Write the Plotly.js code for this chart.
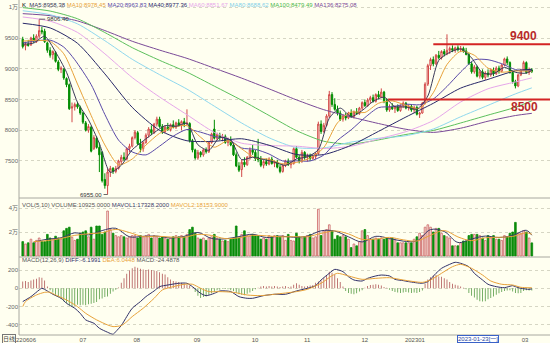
<!DOCTYPE html>
<html><head><meta charset="utf-8">
<script src="https://cdn.plot.ly/plotly-3.0.1.min.js"></script>
<style>html,body{margin:0;padding:0;background:#fffff0}#chart{width:550px;height:343px}</style>
</head><body><div id="chart"></div>
<script>
// ---- daily candles (trading-day index 0..186) ----
const open = [9480,9370,9400,9390,9500,9440,9530,9620,9610,9420,
9300,9230,9260,9110,8990,8990,8840,8740,8360,8380,
8420,8370,8280,8120,8000,8050,7700,7870,7720,7640,
7200,7100,7320,7380,7330,7380,7490,7560,7530,7700,
7740,7880,7960,7780,7700,7800,7920,8010,7960,8100,
8180,8060,7980,8050,8010,8090,8050,8120,8080,8140,
8100,8110,7830,7680,7550,7640,7600,7680,7650,7800,
8020,7870,7920,7880,7900,7800,7850,7760,7600,7420,
7360,7480,7440,7560,7680,7640,7560,7520,7430,7490,
7450,7530,7460,7480,7400,7330,7430,7500,7440,7460,
7700,7560,7500,7640,7560,7580,7540,7570,7620,8100,
7980,8080,8230,8580,8420,8340,8280,8180,8230,8200,
8280,8220,8300,8270,8360,8450,8400,8490,8530,8470,
8580,8540,8620,8480,8330,8380,8350,8380,8320,8400,
8440,8360,8390,8330,8370,8260,8280,8440,8750,9050,
9150,9080,9220,9180,9280,9240,9300,9330,9300,9340,
9310,9330,9290,9230,9080,8950,9030,8880,8950,8860,
8930,8900,8980,8920,9010,8960,9060,9160,9100,8940,
8790,8720,8900,8980,9100,8940,8980];
const high = [9520,9440,9470,9520,9560,9560,9806.4,9680,9650,9440,
9350,9300,9290,9140,9040,9010,8860,8760,8450,8450,
8460,8400,8300,8150,8100,8070,7920,7900,7800,7660,
7300,7380,7420,7400,7420,7520,7600,7640,7720,7780,
7900,8000,7990,7860,7820,7950,8050,8080,8120,8220,
8220,8100,8080,8120,8110,8160,8140,8180,8160,8200,
8340,8130,7860,7700,7680,7660,7700,7720,7820,7960,
8170,7960,7960,7940,7930,7880,7900,7800,7640,7480,
7520,7560,7580,7720,7760,7680,7860,7580,7520,7540,
7560,7570,7510,7520,7440,7460,7520,7540,7500,7720,
7740,7600,7680,7660,7620,7620,7600,7640,8140,8160,
8120,8260,8640,8620,8520,8400,8320,8260,8280,8300,
8340,8320,8360,8380,8470,8500,8520,8560,8580,8600,
8640,8680,8640,8520,8420,8440,8400,8420,8420,8470,
8460,8420,8420,8400,8400,8300,8460,8780,9080,9180,
9200,9240,9290,9300,9320,9560,9360,9380,9360,9380,
9370,9360,9340,9260,9120,9060,9050,8980,8990,8960,
8990,9010,9020,9040,9050,9080,9180,9200,9120,8970,
8820,8920,9000,9130,9120,9020,9010];
const low = [9330,9300,9360,9370,9420,9420,9500,9560,9420,9260,
9180,9150,9100,8960,8930,8820,8700,8330,8130,8320,
8350,8250,8100,7980,7960,7640,7680,7700,7320,7150,
7050,6955,7240,7290,7300,7360,7450,7500,7510,7640,
7720,7850,7760,7640,7650,7780,7880,7920,7940,8060,
8040,7940,7950,7990,7980,8030,8020,8060,8000,8050,
8080,7800,7640,7520,7520,7560,7570,7620,7630,7780,
7850,7840,7840,7820,7780,7740,7740,7580,7400,7320,
7240,7400,7420,7520,7600,7500,7480,7400,7380,7420,
7430,7440,7400,7380,7300,7310,7400,7420,7380,7440,
7540,7460,7470,7520,7490,7500,7520,7530,7600,7940,
7960,8060,8200,8380,8320,8240,8150,8140,8160,8180,
8200,8190,8250,8250,8330,8380,8380,8430,8450,8450,
8500,8520,8440,8300,8300,8330,8280,8300,8300,8360,
8340,8320,8300,8280,8240,8200,8270,8420,8720,8980,
9040,9060,9150,9150,9200,9220,9240,9270,9260,9280,
9270,9260,9220,9060,8920,8920,8860,8840,8830,8820,
8860,8870,8880,8900,8920,8940,9040,9060,8920,8760,
8680,8700,8880,8960,8920,8900,8930];
const close = [9360,9400,9380,9500,9450,9530,9620,9600,9440,9300,
9220,9280,9120,8990,9010,8850,8740,8350,8380,8420,
8380,8280,8130,8000,8060,7660,7880,7720,7600,7180,
7100,7320,7380,7330,7380,7500,7560,7530,7700,7740,
7880,7970,7780,7700,7800,7920,8020,7960,8100,8180,
8060,7980,8050,8010,8090,8050,8120,8080,8140,8100,
8120,7830,7680,7550,7640,7600,7680,7650,7800,7940,
7870,7930,7880,7900,7800,7850,7760,7600,7420,7350,
7480,7440,7560,7680,7640,7540,7520,7430,7490,7450,
7530,7460,7480,7400,7330,7430,7500,7440,7460,7700,
7560,7500,7640,7560,7580,7540,7580,7620,8100,7980,
8080,8230,8580,8420,8340,8280,8180,8230,8200,8280,
8220,8300,8270,8360,8450,8400,8490,8530,8470,8580,
8540,8620,8480,8330,8380,8350,8380,8320,8400,8440,
8360,8390,8330,8370,8260,8280,8440,8750,9050,9150,
9080,9220,9180,9280,9240,9300,9330,9300,9340,9310,
9330,9290,9230,9080,8950,9030,8880,8950,8860,8930,
8900,8980,8920,9010,8960,9060,9160,9100,8940,8790,
8720,8900,8980,9100,8940,8980,8960];
const volume = [12000,10000,11000,14000,11000,13000,15000,12000,12000,18000,
15000,14000,16500,15000,14000,21000,23000,24000,15500,13000,
14000,19000,20000,21000,16000,24000,14000,25000,25000,18000,
20000,37500,22000,19000,17000,16000,17000,16000,15000,16000,
17000,17000,15000,17000,16000,17000,18000,15000,17000,16000,
15000,16000,15000,14000,15000,16000,17000,16000,17000,16000,
18000,22000,24000,19000,15000,14000,15000,13000,15000,16000,
18000,15000,14000,12500,13000,12000,14000,15000,25000,15000,
18000,21000,17000,16500,18000,17000,17000,14000,15000,14000,
17000,16000,17000,17000,16000,17000,13000,18000,13000,12500,
19000,16000,15000,16000,17000,18000,15000,16000,39000,17000,
21000,22000,26000,21000,14000,17000,16000,17000,16000,14000,
7000,10000,8500,12000,21000,22000,17000,14000,14000,15000,
14000,15000,14000,15000,14000,15000,14000,11000,11000,11000,
11000,11000,11000,14000,16000,19000,17000,24000,26000,24000,
20000,23000,23000,19000,17000,16000,15000,8500,8500,8500,
11000,12500,12500,17000,18000,18000,18000,17000,15000,13000,
17000,15000,17000,14000,14000,13000,17000,16000,19000,20000,
28000,19000,19000,21000,20000,15000,10925];
const macdHist = [75,80,70,85,95,105,120,115,85,20,
-20,-45,-70,-95,-115,-140,-160,-185,-200,-190,
-180,-185,-180,-185,-175,-170,-160,-150,-120,-110,
-95,-90,-60,-35,-15,10,60,110,160,195,
220,235,225,215,205,200,205,200,195,190,
175,160,150,120,95,80,75,70,60,50,
40,30,5,-40,-80,-105,-95,-90,-70,-55,
-40,-20,-15,-5,-5,-10,-20,-30,-50,-65,
-70,-75,-60,-45,-30,-10,5,20,25,20,
25,20,25,20,15,20,25,15,20,40,
55,40,25,20,25,30,35,60,75,85,
110,140,180,170,150,110,70,20,-30,-50,
-60,-65,-55,-35,-20,5,25,35,40,45,
40,30,15,5,-15,-30,-40,-45,-50,-45,
-40,-45,-50,-45,-50,-40,-25,50,95,120,
140,145,130,125,110,95,70,50,40,30,
20,5,-10,-50,-80,-100,-125,-140,-145,-140,
-120,-105,-90,-70,-55,-40,-30,-25,-20,-35,
-50,-55,-50,-30,-20,-25,-24.49];

// ---- moving averages (knots by trading-day index) ----
const ma5Idx = [0,4,8,12,16,20,24,28,32,36,40,44,48,52,56,60,64,68,72,76,80,84,88,92,96,100,104,108,112,116,120,124,128,132,136,140,144,148,152,156,160,164,168,172,176,180,184,186];
const ma5Val = [9400,9418,9528,9272,8942,8454,8170,7784,7316,7430,7682,7826,7960,8074,8064,8112,7764,7674,7884,7838,7522,7560,7524,7482,7428,7532,7568,7684,8194,8360,8222,8320,8468,8538,8384,8380,8342,8556,9136,9266,9322,9176,8934,8918,9022,8942,8928,8975];
const ma10Idx = [0,5,10,15,20,25,30,35,40,45,50,55,60,65,70,75,80,85,90,95,100,105,110,115,120,125,130,135,140,145,150,155,160,165,170,175,180,186];
const ma10Val = [9450,9460,9444,9243,8752,8240,7761,7439,7532,7758,7949,8050,8074,7886,7724,7830,7697,7547,7528,7452,7476,7548,7718,8121,8296,8289,8439,8477,8406,8353,8610,9069,9283,9219,9010,8945,8964,8960];
const ma20Idx = [0,10,15,19,25,30,35,40,45,50,55,60,65,70,75,80,85,90,95,100,105,110,115,120,125,130,135,140,145,150,155,160,165,170,175,180,186];
const ma20Val = [9420,9465,9352,9147,8742,8257,7840,7647,7599,7741,7904,8012,7968,7899,7858,7711,7689,7613,7500,7502,7500,7597,7835,8007,8205,8368,8383,8423,8415,8508,8711,8947,9144,9147,9082,8987,8964];
const longIdx = [0,10,20,30,40,50,60,70,80,90,100,110,120,130,140,150,160,170,180,186];
const ma40Val = [9740,9664,9414,8917,8372,7999,7829,7820,7861,7756,7606,7605,7755,7982,8215,8438,8685,8827,8967,8990];
const ma60Val = [9842,9774,9591,9243,8857,8540,8252,7965,7789,7751,7741,7703,7740,7859,7977,8158,8459,8674,8785,8852];
const ma80Val = [9943,9879,9730,9456,9154,8904,8669,8391,8117,7877,7718,7712,7808,7869,7911,8021,8219,8405,8591,8689];
const ma100Val = [9994,9938,9813,9589,9343,9137,8945,8717,8487,8240,7994,7821,7776,7843,7931,7997,8118,8246,8373,8479];
const ma136Val = [9896,9863,9778,9621,9447,9303,9169,9009,8847,8673,8494,8334,8216,8109,8016,7965,8033,8147,8239,8275];

// volume averages
const mavIdx = [4,9,14,19,24,29,34,39,44,49,54,59,64,69,74,79,84,89,94,99,104,109,114,119,124,129,134,139,144,149,154,159,164,169,174,179,184,186];
const mavol1 = [11600,14000,15200,19300,17600,21200,23100,16000,16400,16600,15000,16400,19600,14600,14300,16200,18100,15400,16600,15600,16600,21000,20800,16000,11700,16400,14600,12400,12600,22000,20400,11300,14200,16600,15400,17200,21400,17328];
const mavol2 = [12000,12800,14600,17200,18500,19400,22150,19550,16200,16500,15800,15700,18000,17100,14500,15200,17200,16800,16000,16100,16100,18800,20900,18400,13900,14100,15500,13500,12500,17300,21200,15900,12800,15200,15600,16300,19300,18154];

// MACD lines
const diffIdx = [0,3,6,7,9,11,14,16,19,21,23,26,28,31,33,34,36,38,40,43,45,48,50,53,57,60,62,65,67,70,72,76,79,82,84,88,92,96,100,104,107,109,112,114,117,119,121,124,126,129,131,134,136,139,141,146,148,151,153,156,158,160,163,165,168,170,173,176,179,180,182,185,186];
const diffVal = [-145,-91,-18,0,-29,-65,-109,-164,-218,-273,-345,-382,-436,-480,-502,-473,-407,-309,-218,-145,-91,-29,18,36,55,55,18,-55,-80,-55,-29,-36,-91,-109,-109,-80,-65,-65,-29,0,29,91,164,207,182,127,91,80,109,135,145,135,98,84,73,55,73,164,218,262,284,273,236,164,91,44,18,7,29,18,0,-11,-6.2];
const deaIdx = [0,1,5,8,10,12,16,20,23,27,31,33,36,38,40,44,48,51,55,59,62,65,68,72,77,82,87,92,100,104,109,113,115,119,124,129,134,139,146,149,153,157,160,164,168,171,175,179,182,186];
const deaVal = [-200,-145,-73,-44,-44,-73,-127,-200,-273,-345,-400,-418,-407,-364,-309,-218,-109,-18,18,44,44,0,-36,-36,-44,-73,-80,-65,-36,-11,55,138,164,135,98,109,116,91,65,91,164,236,262,218,145,80,44,36,11,6.04];

// axis labels
const tickIdx = [1.2,22,41.7,63.7,84.9,103.9,125,143.3,183.5];
const tickText = ['220606','07','08','09','10','11','12','202301','03'];
const priceTicks = [7500,8000,8500,9000,9500,10000];
const priceTickText = ['7500','8000','8500','9000','9500','1万'];
const volTicks = [20000,40000];
const volTickText = ['2万','4万'];
const macdTicks = [-400,-200,0,200];
const macdTickText = ['-400','-200','0','200'];
const levels = [9400, 8500];
const levelStart = [150, 133.5];
const highMark = {i:6, v:9806.4, t:'9806.40'};
const lowMark = {i:31, v:6955, t:'6955.00'};

// ---- build ----
const BG = '#fffff0';
const FONT = 'Liberation Sans, Noto Sans CJK SC, sans-serif';
const idx = close.map((_, i) => i);
const isUp = close.map((c, i) => c >= open[i]);
const traces = [];
traces.push({type:'candlestick', x:idx, open:open, high:high, low:low, close:close,
  xaxis:'x', yaxis:'y', whiskerwidth:0, hoverinfo:'skip',
  increasing:{line:{color:'#d24848', width:1}, fillcolor:BG},
  decreasing:{line:{color:'#008c00', width:1}, fillcolor:'#008c00'}});
const maDefs = [
  [ma136Val, longIdx, '#7a4a98'],
  [ma100Val, longIdx, '#5cc05c'],
  [ma80Val, longIdx, '#8fd8ee'],
  [ma60Val, longIdx, '#e6a6ea'],
  [ma40Val, longIdx, '#282868'],
  [ma20Val, ma20Idx, '#5a4aa8'],
  [ma10Val, ma10Idx, '#e8a23a'],
  [ma5Val, ma5Idx, '#3a3a58']
];
maDefs.forEach(d => traces.push({type:'scatter', mode:'lines', x:d[1], y:d[0], xaxis:'x', yaxis:'y',
  line:{color:d[2], width:1, shape:'spline', smoothing:0.7}, hoverinfo:'skip'}));
traces.push({type:'bar', x:idx, y:volume, xaxis:'x', yaxis:'y2', width:0.62,
  marker:{color:isUp.map(u => u ? '#fbeee6' : '#0a8c0a'), line:{color:isUp.map(u => u ? '#cc6464' : '#0a8c0a'), width:0.8}},
  hoverinfo:'skip'});
traces.push({type:'scatter', mode:'lines', x:mavIdx, y:mavol1, xaxis:'x', yaxis:'y2', line:{color:'#3a3a68', width:1, shape:'spline'}, hoverinfo:'skip'});
traces.push({type:'scatter', mode:'lines', x:mavIdx, y:mavol2, xaxis:'x', yaxis:'y2', line:{color:'#e8a23a', width:1, shape:'spline'}, hoverinfo:'skip'});
traces.push({type:'bar', x:idx, y:macdHist, xaxis:'x', yaxis:'y3', width:0.3,
  marker:{color:macdHist.map(v => v >= 0 ? '#b25a5a' : '#5a9e4a'), line:{width:0}}, hoverinfo:'skip'});
traces.push({type:'scatter', mode:'lines', x:diffIdx, y:diffVal, xaxis:'x', yaxis:'y3', line:{color:'#303068', width:1, shape:'spline', smoothing:0.7}, hoverinfo:'skip'});
traces.push({type:'scatter', mode:'lines', x:deaIdx, y:deaVal, xaxis:'x', yaxis:'y3', line:{color:'#e8a23a', width:1, shape:'spline', smoothing:0.7}, hoverinfo:'skip'});

const H = 335;
const mainBot = 137/H, volBot = 78/H;
const gridAxis = {showgrid:true, gridcolor:'#d6d6c4', griddash:'dot', gridwidth:1, zeroline:false,
  tickfont:{size:6, color:'#666', family:FONT}, ticks:'', showline:false, fixedrange:true};
const shapes = [
  {type:'line', xref:'paper', yref:'paper', x0:0, x1:1, y0:mainBot, y1:mainBot, line:{color:'#a8a8a0', width:1}},
  {type:'line', xref:'paper', yref:'paper', x0:0, x1:1, y0:volBot, y1:volBot, line:{color:'#a8a8a0', width:1}},
  {type:'line', xref:'paper', yref:'paper', x0:0, x1:1, y0:0, y1:0, line:{color:'#a8a8a0', width:1}},
  {type:'line', xref:'paper', yref:'paper', x0:0, x1:0, y0:0, y1:1, line:{color:'#a8a8a0', width:1}}
];
levels.forEach((lv, k) => shapes.push({type:'line', xref:'x', yref:'y', x0:levelStart[k], x1:192.64, y0:lv, y1:lv, line:{color:'#d42424', width:2}}));

const span = (c, t) => '<span style="color:' + c + '">' + t + '</span>';
const annotations = [
  {xref:'paper', yref:'paper', x:0.002, y:(H-5)/H, xanchor:'left', yanchor:'middle', showarrow:false,
   font:{size:6, family:FONT},
   text: span('#000','K') + '  ' + span('#3a3a58','MA5:8958.38') + ' ' + span('#e8a23a','MA10:8978.45') + ' ' +
     span('#5a4aa8','MA20:8963.83') + ' ' + span('#282868','MA40:8977.36') + ' ' + span('#e6a6ea','MA60:8851.67') + ' ' +
     span('#7fcfe8','MA80:8688.62') + ' ' + span('#4cb84c','MA100:8479.49') + ' ' + span('#7a4a98','MA136:8275.08')},
  {xref:'paper', yref:'paper', x:0.002, y:(H-205)/H, xanchor:'left', yanchor:'middle', showarrow:false,
   font:{size:6, family:FONT},
   text: span('#555','VOL(5,10) VOLUME:10925.0000') + ' ' + span('#3a3a68','MAVOL1:17328.2000') + ' ' + span('#e8a23a','MAVOL2:18153.9000')},
  {xref:'paper', yref:'paper', x:0.002, y:(H-260)/H, xanchor:'left', yanchor:'middle', showarrow:false,
   font:{size:6, family:FONT},
   text: span('#555','MACD(12,26,9)') + ' ' + span('#303068','DIFF:-6.1991') + ' ' + span('#e8a23a','DEA:6.0448') + ' ' + span('#555','MACD:-24.4878')},
  {xref:'x', yref:'y', x:highMark.i, y:highMark.v, text:highMark.t, showarrow:true, arrowhead:0, arrowwidth:0.8, arrowcolor:'#444',
   ax:6, ay:0, xanchor:'left', font:{size:6, color:'#333', family:FONT}},
  {xref:'x', yref:'y', x:lowMark.i, y:lowMark.v, text:lowMark.t, showarrow:true, arrowhead:0, arrowwidth:0.8, arrowcolor:'#444',
   ax:-4, ay:0, xanchor:'right', font:{size:6, color:'#333', family:FONT}},
  {xref:'x', yref:'y', x:183, y:levels[0], yshift:8, text:'<b>9400</b>', showarrow:false, font:{size:12, color:'#b82a2a', family:FONT}},
  {xref:'x', yref:'y', x:183.3, y:levels[1], yshift:-8, text:'<b>8500</b>', showarrow:false, font:{size:12, color:'#b82a2a', family:FONT}},
  {xref:'paper', yref:'paper', x:-0.019, y:-0.012, xanchor:'center', yanchor:'middle', showarrow:false, text:'日线',
   font:{size:6, color:'#444', family:FONT}, bordercolor:'#777', borderwidth:1, borderpad:0},
  {xref:'x', yref:'paper', x:166.3, y:-0.012, xanchor:'center', yanchor:'middle', showarrow:false, text:'2023-01-23[一]',
   font:{size:6, color:'#2a4aa0', family:FONT}, bordercolor:'#3a62c8', borderwidth:1, borderpad:0, bgcolor:'#ffffff'}
];

const layout = {
  width:550, height:343, margin:{l:19, r:0, t:0, b:8, pad:0},
  paper_bgcolor:BG, plot_bgcolor:BG, showlegend:false, hovermode:false,
  font:{family:FONT},
  xaxis:{range:[-1.365,192.64], anchor:'y3', tickvals:tickIdx, ticktext:tickText, tickfont:{size:6, color:'#555', family:FONT},
    showgrid:false, zeroline:false, showline:false, ticks:'', rangeslider:{visible:false}, fixedrange:true},
  yaxis:Object.assign({}, gridAxis, {domain:[mainBot,1], range:[6898,10118], tickvals:priceTicks, ticktext:priceTickText}),
  yaxis2:Object.assign({}, gridAxis, {domain:[volBot,mainBot], range:[-833,48333], tickvals:volTicks, ticktext:volTickText}),
  yaxis3:Object.assign({}, gridAxis, {domain:[0,volBot], range:[-510,342], tickvals:macdTicks, ticktext:macdTickText}),
  shapes:shapes, annotations:annotations
};
Plotly.newPlot('chart', traces, layout, {staticPlot:true, displayModeBar:false});
</script></body></html>
